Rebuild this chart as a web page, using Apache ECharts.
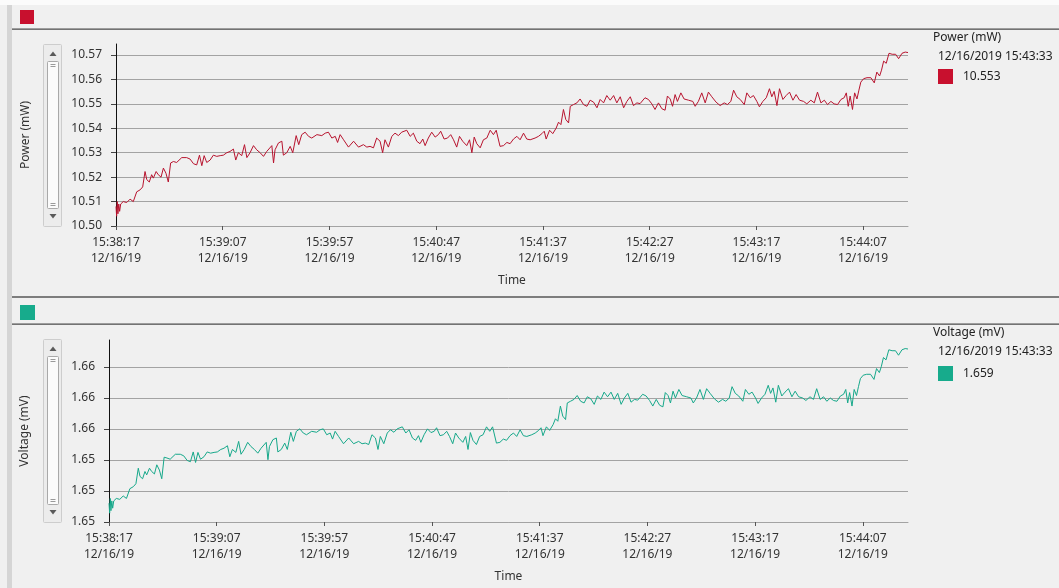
<!DOCTYPE html>
<html><head><meta charset="utf-8">
<script src="https://cdn.jsdelivr.net/npm/echarts@6/dist/echarts.min.js"></script>
<style>html,body{margin:0;padding:0;background:#f0f0f0;overflow:hidden}#c{width:1059px;height:588px}</style>
</head><body><div id="c"></div>
<script>
// ---- data (seconds after 15:38:17 on 12/16/19) ----
const startClock = [15, 38, 17];
const dateLabel = '12/16/19';
const xTickSec = [0, 50, 100, 150, 200, 250, 300, 350];
const xMaxSec = 371;

const timeSec = [
0,0.3,0.6,0.9,1.3,1.7,2.2,2.7,3.4,5.0,
6.6,8.1,9.7,11.3,12.5,13.6,14.4,15.6,16.7,17.5,
18.8,19.8,21.1,22.2,23.4,24.5,25.6,26.9,28.4,30.8,
33.1,34.7,36.3,37.8,39.1,40.2,41.3,42.5,44.1,45.6,
47.2,48.8,50.3,51.9,53.4,55.0,56.1,57.3,58.9,60.2,
61.3,62.8,64.4,65.9,67.5,69.1,70.6,73.0,73.8,74.5,
76.1,77.7,78.4,80.0,81.6,82.8,84.4,85.6,87.0,88.6,
90.2,91.7,94.1,96.4,98.0,99.5,101.1,102.7,103.8,105.0,
106.6,108.9,111.3,113.6,115.9,117.5,
119.0,120.6,122.1,123.7,124.9,126.0,127.6,129.2,130.7,132.3,
133.8,136.2,137.8,139.3,140.9,142.4,143.7,144.8,146.3,147.9,
149.5,151.0,152.1,153.7,155.3,156.8,158.1,159.6,160.9,162.4,
164.3,165.6,166.7,167.8,169.0,170.6,172.1,173.7,175.3,176.8,
178.1,179.9,181.5,183.1,184.6,186.2,187.8,189.3,190.9,192.4,
194.0,196.3,197.9,199.5,200.6,201.5,203.1,204.6,206.2,207.3,
208.4,209.6,210.7,212.0,212.8,214.3,215.9,217.4,219.0,220.6,
222.1,223.7,225.3,226.8,228.4,229.9,231.5,233.1,234.6,236.2,
237.8,239.3,240.9,242.4,244.0,
245.5,247.8,249.4,251.0,252.5,254.1,255.7,257.2,258.3,259.6,
260.7,261.9,263.0,264.6,266.1,268.2,270.2,271.3,272.8,274.4,
276.0,277.5,279.1,281.1,283.0,284.9,286.4,288.0,289.3,290.8,
292.4,294.3,295.5,297.1,298.6,300.2,301.4,303.0,304.6,306.1,
307.2,308.3,309.6,310.8,312.4,313.9,315.5,317.1,318.6,320.2,
322.1,323.6,325.5,327.1,328.6,330.2,331.8,333.3,334.9,336.4,
338.0,339.6,341.1,342.1,343.0,343.9,345.0,346.0,347.1,348.0,
348.9,350.2,351.8,353.6,355.2,356.4,357.7,358.6,359.6,360.8,
362.1,363.6,365.2,366.6,368.2,369.7,371.0
];

const powerMW = [
10.508,10.504,10.510,10.505,10.509,10.506,10.509,10.5086,10.510,10.5096,
10.511,10.510,10.514,10.5148,10.516,10.5223,10.519,10.518,10.521,10.5196,
10.5223,10.521,10.520,10.5237,10.5216,10.518,10.5258,10.5264,10.526,10.528,
10.528,10.5274,10.5255,10.525,10.529,10.5247,10.5288,10.526,10.527,10.529,
10.5285,10.5288,10.529,10.530,10.5305,10.5315,10.527,10.530,10.5288,10.5333,
10.528,10.530,10.5329,10.5312,10.530,10.5285,10.5305,10.5329,10.5258,10.5312,
10.534,10.5347,10.529,10.530,10.5326,10.530,10.537,10.5333,10.5374,10.5384,
10.5367,10.536,10.5374,10.537,10.538,10.5384,10.536,10.5367,10.5342,10.5374,
10.5353,10.5323,10.5347,10.5323,10.5333,10.5323,
10.5326,10.532,10.536,10.5347,10.530,10.5353,10.5323,10.5367,10.538,10.537,
10.5384,10.5392,10.5367,10.538,10.5347,10.5337,10.5356,10.5329,10.536,10.5384,
10.5364,10.5374,10.5388,10.5356,10.536,10.5374,10.5353,10.5323,10.5367,10.5347,
10.5329,10.5353,10.530,10.5364,10.5337,10.532,10.5353,10.536,10.5392,10.5374,
10.5392,10.5326,10.5329,10.5342,10.5337,10.5356,10.5367,10.5353,10.538,10.5356,
10.5353,10.536,10.5367,10.5378,10.5388,10.5356,10.5392,10.5378,10.5401,10.5425,
10.5415,10.5477,10.5436,10.5422,10.549,10.5497,10.5504,10.552,10.5497,10.549,
10.5515,10.5507,10.5484,10.5518,10.5504,10.5534,10.5515,10.5534,10.5504,10.5529,
10.5484,10.551,10.5529,10.5493,10.5504,
10.5501,10.5525,10.5518,10.550,10.5477,10.5504,10.548,10.5474,10.5532,10.552,
10.549,10.5538,10.551,10.5545,10.552,10.5515,10.551,10.549,10.551,10.5545,
10.5504,10.5548,10.5529,10.5507,10.5493,10.5504,10.5497,10.551,10.5556,10.5529,
10.5518,10.5497,10.5545,10.5525,10.5534,10.551,10.5488,10.551,10.5525,10.5562,
10.5529,10.5551,10.5493,10.5562,10.5518,10.5534,10.5548,10.5515,10.5538,10.5515,
10.551,10.550,10.5515,10.5504,10.5548,10.5504,10.5515,10.5497,10.551,10.550,
10.5497,10.5518,10.5525,10.5545,10.549,10.5532,10.5477,10.5545,10.552,10.5556,
10.5589,10.5603,10.5607,10.5607,10.5586,10.563,10.5614,10.5638,10.5675,10.5666,
10.5707,10.5703,10.5703,10.5685,10.5707,10.5712,10.571
];

const voltageMV = [
1.65121,1.65057,1.65152,1.65073,1.65136,1.65089,1.65136,1.65130,1.65152,1.65146,
1.65168,1.65152,1.65215,1.65228,1.65247,1.65347,1.65294,1.65279,1.65326,1.65304,
1.65347,1.65326,1.65310,1.65369,1.65335,1.65279,1.65418,1.65413,1.65405,1.65437,
1.65437,1.65427,1.65397,1.65389,1.65452,1.65384,1.65449,1.65405,1.65421,1.65452,
1.65444,1.65449,1.65452,1.65468,1.65476,1.65492,1.65421,1.65468,1.65449,1.65520,
1.65437,1.65468,1.65514,1.65487,1.65468,1.65444,1.65476,1.65514,1.65402,1.65487,
1.65531,1.65542,1.65452,1.65468,1.65509,1.65468,1.65579,1.65520,1.65585,1.65601,
1.65574,1.65563,1.65585,1.65579,1.65595,1.65601,1.65563,1.65574,1.65535,1.65585,
1.65552,1.65505,1.65542,1.65505,1.65520,1.65505,
1.65509,1.65500,1.65563,1.65542,1.65468,1.65552,1.65505,1.65574,1.65595,1.65579,
1.65601,1.65614,1.65574,1.65595,1.65542,1.65527,1.65557,1.65514,1.65563,1.65601,
1.65577,1.65585,1.65608,1.65557,1.65563,1.65585,1.65552,1.65505,1.65574,1.65542,
1.65514,1.65552,1.65468,1.65577,1.65527,1.65500,1.65552,1.65563,1.65614,1.65585,
1.65614,1.65509,1.65514,1.65535,1.65527,1.65557,1.65574,1.65552,1.65595,1.65557,
1.65552,1.65563,1.65574,1.65591,1.65608,1.65557,1.65614,1.65591,1.65628,1.65666,
1.65650,1.65748,1.65683,1.65661,1.65768,1.65779,1.65791,1.65816,1.65779,1.65768,
1.65808,1.65795,1.65759,1.65813,1.65791,1.65838,1.65808,1.65838,1.65791,1.65830,
1.65759,1.65800,1.65830,1.65773,1.65791,
1.65786,1.65824,1.65813,1.65784,1.65748,1.65791,1.65753,1.65743,1.65835,1.65816,
1.65768,1.65844,1.65800,1.65855,1.65816,1.65808,1.65800,1.65768,1.65800,1.65855,
1.65791,1.65860,1.65830,1.65795,1.65773,1.65791,1.65779,1.65800,1.65873,1.65830,
1.65813,1.65779,1.65855,1.65824,1.65838,1.65800,1.65765,1.65800,1.65824,1.65882,
1.65830,1.65865,1.65773,1.65882,1.65813,1.65838,1.65860,1.65808,1.65844,1.65808,
1.65800,1.65784,1.65808,1.65791,1.65860,1.65791,1.65808,1.65779,1.65800,1.65784,
1.65779,1.65813,1.65824,1.65855,1.65768,1.65835,1.65748,1.65855,1.65816,1.65873,
1.65925,1.65947,1.65953,1.65953,1.65920,1.65990,1.65964,1.66002,1.66061,1.66046,
1.66111,1.66105,1.66105,1.66076,1.66111,1.66119,1.66116
];

const powerAxis = { min: 10.50, max: 10.57, step: 0.01 };
const voltageAxis = { min: 1.650, max: 1.660, step: 0.002 };
const readout = { stamp: '12/16/2019 15:43:33', power: '10.553', voltage: '1.659' };

// ---- chart ----
const FONT = '"Noto Sans", "Open Sans", sans-serif';
const TXT = '#333333';
const RED = '#b8132e', RED_SQ = '#c8102e';
const TEAL = '#16a88a', TEAL_SQ = '#17ab8c';
const GRIDC = '#a3a3a3';

function clock(t) {
  let s = startClock[0] * 3600 + startClock[1] * 60 + startClock[2] + Math.round(t);
  const h = Math.floor(s / 3600), m = Math.floor((s % 3600) / 60), sec = s % 60;
  const p = n => String(n).padStart(2, '0');
  return p(h) + ':' + p(m) + ':' + p(sec);
}

function xAxisFor(gi) {
  return {
    gridIndex: gi, type: 'value', min: 0, max: xMaxSec, interval: 50,
    axisLine: { show: true, onZero: false, lineStyle: { color: GRIDC, width: 1 } },
    axisTick: { show: true, length: 4, customValues: xTickSec, lineStyle: { color: '#555' } },
    axisLabel: { customValues: xTickSec, color: TXT, fontSize: 12, fontFamily: FONT, lineHeight: 16, margin: 9,
      formatter: v => clock(v) + '\n' + dateLabel },
    splitLine: { show: false },
    name: 'Time', nameLocation: 'middle', nameGap: 49,
    nameTextStyle: { color: TXT, fontSize: 12, fontFamily: FONT }
  };
}
function yAxisFor(gi, ax) {
  return {
    gridIndex: gi, type: 'value', min: ax.min, max: ax.max, interval: ax.step,
    axisLine: { show: true, lineStyle: { color: '#111', width: 1 } },
    axisTick: { show: true, length: 5, lineStyle: { color: '#444' } },
    axisLabel: { color: TXT, fontSize: 12, fontFamily: FONT, margin: 14, formatter: v => v.toFixed(2) },
    splitLine: { show: true, lineStyle: { color: GRIDC, width: 1 } }
  };
}
function frameY(gi, name, gap) {
  return {
    gridIndex: gi, type: 'value', min: 0, max: 1,
    axisLine: { show: true, lineStyle: { color: '#111', width: 1 } },
    axisTick: { show: false }, axisLabel: { show: false }, splitLine: { show: false },
    name: name, nameLocation: 'middle', nameGap: gap, nameRotate: 90,
    nameTextStyle: { color: TXT, fontSize: 12, fontFamily: FONT }
  };
}
function hiddenX(gi) { return { gridIndex: gi, type: 'value', min: 0, max: 1, show: false }; }

function scrollbar(top, bottom) {
  const els = [];
  els.push({ type: 'rect', shape: { x: 43.5, y: top + 0.5, width: 18, height: bottom - top, r: 1 },
    style: { fill: '#ececec', stroke: '#cdcdcd', lineWidth: 1 } });
  els.push({ type: 'polygon', shape: { points: [[49.5, top + 12], [56.5, top + 12], [53, top + 7.5]] }, style: { fill: '#5a5a5a' } });
  els.push({ type: 'polygon', shape: { points: [[49.5, bottom - 12], [56.5, bottom - 12], [53, bottom - 7.5]] }, style: { fill: '#5a5a5a' } });
  const tTop = top + 17, tBot = bottom - 18;
  els.push({ type: 'rect', shape: { x: 47.5, y: tTop + 0.5, width: 11, height: tBot - tTop, r: 1 },
    style: { fill: '#fbfbfb', stroke: '#a9a9a9', lineWidth: 1 } });
  [tTop + 3, tTop + 5, tBot - 5, tBot - 3].forEach(yy => {
    els.push({ type: 'line', shape: { x1: 50.5, y1: yy + 0.5, x2: 55.5, y2: yy + 0.5 }, style: { stroke: '#9a9a9a', lineWidth: 1 } });
  });
  return els;
}
function txt(x, y, s, size) {
  return { type: 'text', x: x, y: y, style: { text: s, fill: '#222', font: (size || 12) + 'px ' + FONT, verticalAlign: 'middle', align: 'left' } };
}

const graphics = [
  { type: 'rect', shape: { x: 0, y: 0, width: 1059, height: 5 }, style: { fill: '#fbfbfb' } },
  { type: 'rect', shape: { x: 7, y: 5, width: 5, height: 583 }, style: { fill: '#d5d5d5' } },
  { type: 'rect', shape: { x: 20, y: 10, width: 14, height: 14 }, style: { fill: RED_SQ } },
  { type: 'rect', shape: { x: 12, y: 28.5, width: 1047, height: 1.2 }, style: { fill: '#4a4a4a' } },
  { type: 'rect', shape: { x: 12, y: 296, width: 1047, height: 2 }, style: { fill: '#7d7d7d' } },
  { type: 'rect', shape: { x: 20, y: 305, width: 15, height: 15 }, style: { fill: TEAL_SQ } },
  { type: 'rect', shape: { x: 12, y: 323.5, width: 1047, height: 1.2 }, style: { fill: '#4a4a4a' } },
  { type: 'rect', shape: { x: 938, y: 69, width: 15, height: 15 }, style: { fill: RED_SQ } },
  { type: 'rect', shape: { x: 938, y: 366, width: 15, height: 15 }, style: { fill: TEAL_SQ } },
  txt(933, 38, 'Power (mW)'),
  txt(938, 57, readout.stamp),
  txt(963, 77, readout.power),
  txt(933, 333, 'Voltage (mV)'),
  txt(938, 352, readout.stamp),
  txt(963, 374, readout.voltage)
].concat(scrollbar(44, 226), scrollbar(339, 522));

const chart = echarts.init(document.getElementById('c'), null, { renderer: 'canvas' });
chart.setOption({
  backgroundColor: '#f0f0f0',
  animation: false,
  grid: [
    { left: 116, right: 151, top: 55, bottom: 362 },
    { left: 116, right: 151, top: 44, bottom: 362 },
    { left: 109, right: 151, top: 367, bottom: 66 },
    { left: 109, right: 151, top: 340, bottom: 66 }
  ],
  xAxis: [xAxisFor(0), hiddenX(1), xAxisFor(2), hiddenX(3)],
  yAxis: [yAxisFor(0, powerAxis), frameY(1, 'Power (mW)', 84), yAxisFor(2, voltageAxis), frameY(3, 'Voltage (mV)', 78)],
  series: [
    { type: 'line', xAxisIndex: 0, yAxisIndex: 0, showSymbol: false, symbol: 'none', clip: false,
      lineStyle: { color: RED, width: 1 }, itemStyle: { color: RED },
      data: timeSec.map((t, i) => [t, powerMW[i]]) },
    { type: 'line', xAxisIndex: 2, yAxisIndex: 2, showSymbol: false, symbol: 'none', clip: false,
      lineStyle: { color: TEAL, width: 1 }, itemStyle: { color: TEAL },
      data: timeSec.map((t, i) => [t, voltageMV[i]]) }
  ],
  graphic: graphics
});
</script>
</body></html>
